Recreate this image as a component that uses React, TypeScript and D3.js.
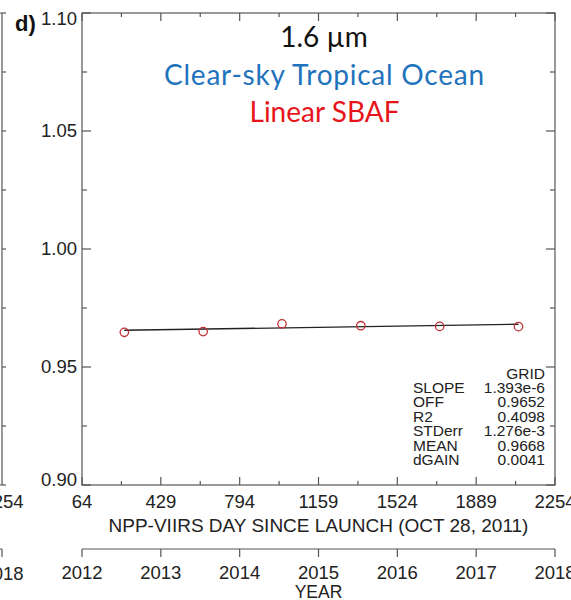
import React from "react";
import * as d3 from "d3";

const dayTicks = [64, 429, 794, 1159, 1524, 1889, 2254];
const yearTicks = [2012, 2013, 2014, 2015, 2016, 2017, 2018];
const yTicks = [0.9, 0.95, 1.0, 1.05, 1.1];
const yTickLabels = ["0.90", "0.95", "1.00", "1.05", "1.10"];
const pointDays = [260, 625, 990, 1355, 1720, 2085];
const pointValues = [0.9647, 0.965, 0.9683, 0.9675, 0.9672, 0.9671];
const fitSlope = 1.393e-6;
const fitOffset = 0.9652;
const statLabels = ["SLOPE", "OFF", "R2", "STDerr", "MEAN", "dGAIN"];
const statValues = ["1.393e-6", "0.9652", "0.4098", "1.276e-3", "0.9668", "0.0041"];
const titleLines = ["1.6 µm", "Clear-sky Tropical Ocean", "Linear SBAF"];

const W = 571;
const H = 600;
const L = 82, R = 555, T = 13, B = 485;
const axisColor = "#555";
const font = "'Liberation Sans', Arial, sans-serif";
const calib = "Lato, 'Noto Sans', sans-serif";
const tickFont = 18.5;

export default function App() {
  const x = d3.scaleLinear().domain([64, 2254]).range([L, R]);
  const y = d3.scaleLinear().domain([0.9, 1.1]).range([B, T]);
  const yr = d3.scaleLinear().domain([2012, 2018]).range([L, R]);
  const yearY = 549;

  const minorX = d3.range(64 + 182.5, 2254, 365);
  const minorY = [0.925, 0.975, 1.025, 1.075];

  const line = d3.line<number>().x((d) => x(d)).y((d) => y(fitOffset + fitSlope * d));
  const lineDays = [pointDays[0], pointDays[pointDays.length - 1]];

  return (
    <div style={{ position: "absolute", left: 0, top: 0 }}>
      <svg width={W} height={H} style={{ display: "block" }}>
        <rect x={0} y={0} width={W} height={H} fill="#fff" />
        {/* partial left panel */}
        <g stroke={axisColor} strokeWidth={1.2} fill="none">
          <line x1={2} y1={T} x2={2} y2={B} />
          <line x1={-10} y1={B} x2={2} y2={B} />
          <line x1={-10} y1={T} x2={2} y2={T} />
          {yTicks.map((t) => (
            <line key={"lp" + t} x1={2} x2={6} y1={y(t)} y2={y(t)} />
          ))}
          {minorY.map((t) => (
            <line key={"lpm" + t} x1={2} x2={6} y1={y(t)} y2={y(t)} />
          ))}
          <line x1={-10} y1={yearY} x2={2} y2={yearY} />
          <line x1={2} y1={yearY} x2={2} y2={yearY + 8} />
        </g>
        <text x={3} y={508} textAnchor="middle" fontFamily={font} fontSize={tickFont} fill="#222">2254</text>
        <text x={3} y={580} textAnchor="middle" fontFamily={font} fontSize={tickFont} fill="#222">2018</text>

        {/* frame */}
        <rect x={L} y={T} width={R - L} height={B - T} fill="none" stroke={axisColor} strokeWidth={1.2} />
        <g stroke={axisColor} strokeWidth={1.2}>
          {dayTicks.map((t) => (
            <g key={"dt" + t}>
              <line x1={x(t)} x2={x(t)} y1={B} y2={B - 8} />
              <line x1={x(t)} x2={x(t)} y1={T} y2={T + 8} />
            </g>
          ))}
          {minorX.map((t) => (
            <g key={"dm" + t}>
              <line x1={x(t)} x2={x(t)} y1={B} y2={B - 4} />
              <line x1={x(t)} x2={x(t)} y1={T} y2={T + 4} />
            </g>
          ))}
          {yTicks.map((t) => (
            <g key={"yt" + t}>
              <line x1={L} x2={L + 9} y1={y(t)} y2={y(t)} />
              <line x1={R} x2={R - 9} y1={y(t)} y2={y(t)} />
            </g>
          ))}
          {minorY.map((t) => (
            <g key={"ym" + t}>
              <line x1={L} x2={L + 5} y1={y(t)} y2={y(t)} />
              <line x1={R} x2={R - 5} y1={y(t)} y2={y(t)} />
            </g>
          ))}
        </g>

        {/* y tick labels */}
        {yTicks.map((t, i) => {
          let off = 0;
          if (i === 0) off = -5;
          if (i === yTicks.length - 1) off = 6;
          return (
            <text key={"yl" + t} x={77} y={y(t) + off} dy="0.35em" textAnchor="end" fontFamily={font} fontSize={tickFont} fill="#222">
              {yTickLabels[i]}
            </text>
          );
        })}

        {/* x tick labels */}
        {dayTicks.map((t) => (
          <text key={"xl" + t} x={x(t)} y={508} textAnchor="middle" fontFamily={font} fontSize={tickFont} fill="#222">
            {t}
          </text>
        ))}
        <text x={(L + R) / 2} y={532} textAnchor="middle" fontFamily={font} fontSize={19} fill="#222">
          NPP-VIIRS DAY SINCE LAUNCH (OCT 28, 2011)
        </text>

        {/* year axis */}
        <g stroke={axisColor} strokeWidth={1.2}>
          <line x1={L} x2={R} y1={yearY} y2={yearY} />
          {yearTicks.map((t) => (
            <line key={"yy" + t} x1={yr(t)} x2={yr(t)} y1={yearY} y2={yearY + 8} />
          ))}
        </g>
        {yearTicks.map((t) => (
          <text key={"yyl" + t} x={yr(t)} y={579} textAnchor="middle" fontFamily={font} fontSize={tickFont} fill="#222">
            {t}
          </text>
        ))}
        <text x={(L + R) / 2} y={598} textAnchor="middle" fontFamily={font} fontSize={17.5} fill="#222">YEAR</text>

        {/* panel label */}
        <text x={15} y={30.5} fontFamily={font} fontSize={22} fontWeight="bold" fill="#111">d)</text>

        {/* titles */}
        <text x={324} y={46.5} textAnchor="middle" fontFamily={calib} fontSize={28} fill="#111">{titleLines[0]}</text>
        <text x={324} y={84.5} textAnchor="middle" fontFamily={calib} fontSize={28} fill="#1f73bd" textLength={320} lengthAdjust="spacing">{titleLines[1]}</text>
        <text x={324.5} y={121.5} textAnchor="middle" fontFamily={calib} fontSize={28} fill="#e8141b">{titleLines[2]}</text>

        {/* fit line */}
        <path d={line(lineDays) || ""} fill="none" stroke="#222" strokeWidth={1.3} />
        {/* points */}
        {pointDays.map((d, i) => (
          <circle key={"p" + i} cx={x(d)} cy={y(pointValues[i])} r={4.2} fill="none" stroke="#c22f33" strokeWidth={1.3} />
        ))}

        {/* stats */}
        <text x={545} y={378.5} textAnchor="end" fontFamily={font} fontSize={15.5} fill="#222">GRID</text>
        {statLabels.map((s, i) => (
          <g key={"s" + s}>
            <text x={413} y={393 + i * 14.4} fontFamily={font} fontSize={15.5} fill="#222">{s}</text>
            <text x={545} y={393 + i * 14.4} textAnchor="end" fontFamily={font} fontSize={15.5} fill="#222">{statValues[i]}</text>
          </g>
        ))}
      </svg>
    </div>
  );
}
